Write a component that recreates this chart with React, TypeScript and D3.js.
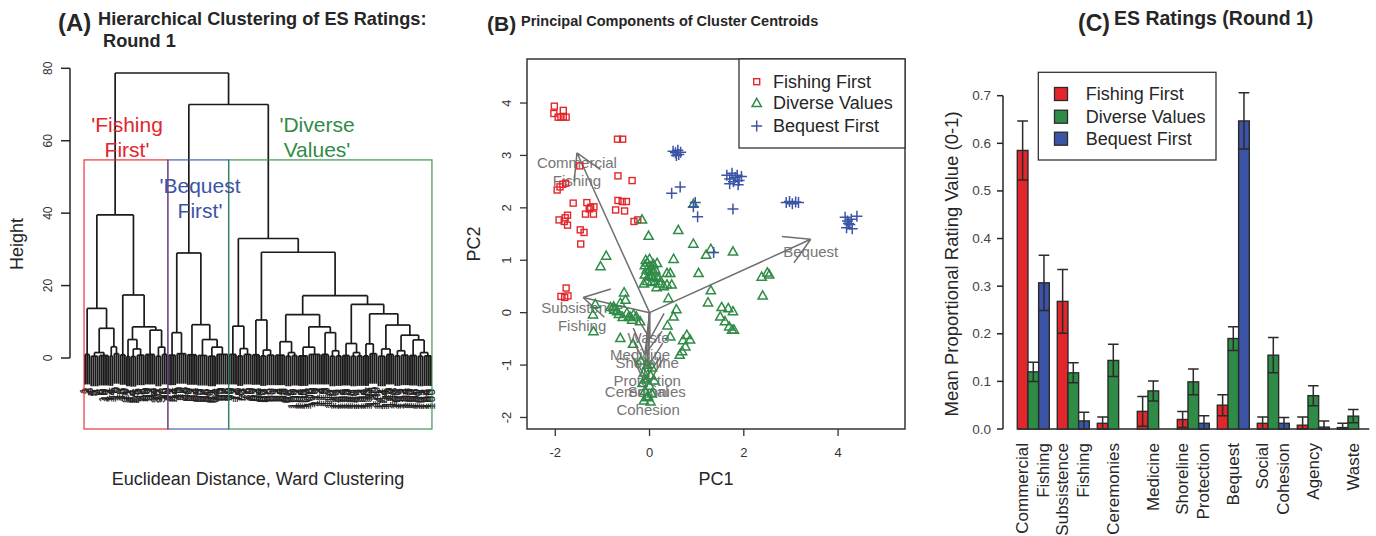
import React from 'react';
import * as d3 from 'd3';

const FONT = '"Liberation Sans", Arial, Helvetica, sans-serif';
const RED = '#e3262b';
const GREEN = '#2f8c46';
const BLUE = '#3c54a5';
const INK = '#262626';
const GREY = '#6f6f6f';

// ---- (A) Ward dendrogram
// a node is [height, ...children]; a plain number n means n leaves joined at that node's height
const fishingFirstTree = [39.5,
  [13.7, [1.0, 3], [8.2, [1.5, [0.5, 4], [0.7, 5]], [3.1, [0.6, 2], [1.2, 3]]]],
  [17.4, [0.9, 3], [8.6, [5.1, [0.5, 2], [2.5, [0.4, 3], [0.8, 4]]], [7.7, [1.0, 5], [3.0, [0.5, 3], [1.0, 3]]]]]];
const bequestFirstTree = [29.0,
  [7.0, [0.8, 4], [1.2, 5]],
  [9.2, [0.9, 5], [5.1, [0.7, 5], [3.0, [0.5, 4], [1.0, 6]]]]];
const diverseValuesTree = [33.0,
  [8.8, [1.0, 4], [2.6, [0.6, 3], [1.0, 4]]],
  [29.2,
    [10.5, [0.9, 4], [2.2, [0.6, 3], [0.8, 4]]],
    [17.2,
      [12.0,
        [4.5, [0.8, 5], [1.5, [0.5, 3], [0.7, 3]]],
        [8.6, [3.0, [0.6, 5], [1.0, 6]], [7.0, [1.0, 4], [2.0, [0.5, 3], [0.6, 3]]]]],
      [14.8,
        [4.0, [0.7, 4], [1.5, [0.5, 3], [0.6, 3]]],
        [12.2,
          [3.9, [0.6, 3], [1.2, 4]],
          [9.1, [2.5, [0.5, 4], [1.0, 4]], [6.3, [2.0, [0.6, 3], [0.8, 4]], [5.0, [0.7, 4], [1.5, [0.5, 3], [0.6, 4]]]]]]]]]];
const dendroTree = [78.7, fishingFirstTree, [70.0, bequestFirstTree, diverseValuesTree]];
const heightTicks = [0, 20, 40, 60, 80];
const cutHeight = 54.7;
const clusterTrees = [fishingFirstTree, bequestFirstTree, diverseValuesTree];
const clusterColors = [RED, BLUE, GREEN];
const clusterLabels = [["'Fishing", "First'"], ["'Bequest", "First'"], ["'Diverse", "Values'"]];
const clusterLabelPos = [[127, 131.7], [200, 192.7], [317, 131.7]];

// ---- (B) PCA of cluster centroids (PC1, PC2)
const fishingFirstPC = [
  [-2.02, 3.94], [-1.83, 3.86], [-2.03, 3.80], [-1.94, 3.73], [-1.88, 3.73], [-1.83, 3.73], [-1.77, 3.73],
  [-0.68, 3.31], [-0.57, 3.31], [-1.48, 2.80], [-0.67, 2.61], [-0.37, 2.52],
  [-1.96, 2.34], [-1.90, 2.40], [-1.84, 2.45], [-1.78, 2.47],
  [-1.62, 2.09], [-1.33, 2.10], [-1.25, 2.01], [-1.18, 2.02], [-1.28, 1.98], [-1.36, 1.88], [-1.19, 1.88],
  [-0.67, 2.14], [-0.58, 2.12], [-0.49, 2.12], [-0.72, 1.96], [-0.53, 1.94],
  [-1.74, 1.86], [-1.79, 1.81], [-1.92, 1.77], [-1.74, 1.67], [-1.81, 1.74],
  [-1.47, 1.58], [-1.39, 1.53], [-1.46, 1.31], [-0.33, 1.74], [-0.25, 1.77],
  [-1.77, 0.47], [-1.88, 0.31], [-1.80, 0.29], [-1.73, 0.32],
];
const diverseValuesPC = [
  [-0.16, 1.77], [-0.02, 1.46], [0.61, 1.57], [0.93, 2.07], [0.93, 1.31], [1.30, 1.21], [1.20, 1.10], [1.77, 1.16],
  [-0.92, 1.08], [-1.04, 0.88], [0.51, 1.02],
  [-0.08, 1.00], [-0.05, 0.95], [0.00, 1.02], [-0.10, 0.90], [0.03, 0.88], [0.08, 0.92], [-0.06, 0.82],
  [0.00, 0.80], [0.06, 0.78], [0.12, 0.82], [-0.10, 0.72], [-0.02, 0.70], [0.05, 0.68], [0.14, 0.70],
  [0.20, 0.66], [-0.05, 0.60], [0.04, 0.58], [0.12, 0.60], [0.22, 0.55], [0.15, 0.48], [0.30, 0.50], [-0.12, 0.55],
  [0.16, 0.94], [0.37, 0.75], [0.44, 0.75], [1.04, 0.75], [0.37, 0.53], [0.47, 0.53], [0.40, 0.27],
  [2.38, 0.68], [2.50, 0.76], [2.54, 0.72], [2.40, 0.32], [1.30, 0.42], [1.24, 0.19],
  [1.53, 0.10], [1.67, 0.08], [1.77, 0.02], [1.50, -0.08], [1.60, -0.17], [1.69, -0.27], [1.75, -0.33], [1.79, -0.33],
  [0.57, 0.06], [0.51, -0.08], [0.38, -0.25], [0.44, -0.46],
  [0.79, -0.43], [0.71, -0.53], [0.86, -0.52], [0.76, -0.65], [0.69, -0.74], [0.64, -0.81],
  [-0.54, 0.38], [-0.51, 0.24], [-1.15, 0.16],
  [-0.83, 0.10], [-0.75, 0.05], [-0.65, -0.03], [-0.57, -0.09], [-0.48, -0.01], [-0.41, -0.09], [-0.34, -0.04],
  [-1.20, -0.04], [-1.19, -0.36], [-0.62, -0.49], [-0.35, -0.60], [-0.28, -0.08], [-0.20, -0.17],
  [-0.62, 0.18], [-0.76, 0.11], [-0.69, 0.02], [-0.44, -0.08], [-0.37, -0.14],
  [-0.18, -0.92], [-0.05, -1.00], [0.05, -1.05], [-0.12, -1.15], [0.02, -1.20], [-0.08, -1.28], [0.10, -1.30],
  [-0.15, -1.35], [0.00, -1.40], [-0.10, -1.50], [0.05, -1.55], [-0.05, -1.62], [-0.12, -1.68], [0.02, -1.70], [-0.03, -1.60],
];
const bequestFirstPC = [
  [0.50, 3.08], [0.55, 3.05], [0.60, 3.10], [0.62, 3.02], [0.66, 3.06], [0.57, 3.00],
  [0.47, 2.28], [0.65, 2.40], [0.93, 2.02], [0.97, 2.10], [1.02, 1.83], [1.36, 1.15],
  [1.64, 2.62], [1.70, 2.55], [1.75, 2.66], [1.78, 2.50], [1.82, 2.58], [1.86, 2.62], [1.90, 2.52], [1.95, 2.60],
  [1.70, 2.46], [1.88, 2.44], [1.77, 1.98],
  [2.90, 2.10], [2.97, 2.12], [3.03, 2.08], [3.10, 2.11], [3.16, 2.10],
  [4.15, 1.82], [4.20, 1.75], [4.25, 1.68], [4.18, 1.62], [4.30, 1.60], [4.40, 1.84], [4.28, 1.78], [4.22, 1.70],
];
const loadingNames = ['Commercial\nFishing', 'Subsistence\nFishing', 'Bequest', 'Waste', 'Medicine',
  'Shoreline\nProtection', 'Ceremonies', 'Social\nCohesion'];
const loadingTips = [[-1.54, 3.05], [-1.41, 0.29], [3.42, 1.40], [0.01, -0.50], [-0.10, -0.80],
  [-0.05, -1.05], [-0.12, -1.30], [-0.02, -1.35]];
const loadingLabelPos = [[-1.54, 2.70], [-1.43, -0.06], [3.42, 1.18], [-0.02, -0.46], [-0.20, -0.78],
  [-0.05, -1.11], [-0.09, -1.49], [-0.03, -1.66]];
const pc1Ticks = [-2, 0, 2, 4];
const pc2Ticks = [-2, -1, 0, 1, 2, 3, 4];

// ---- (C) mean proportional rating by cluster
const esCategories = ['Commercial Fishing', 'Subsistence Fishing', 'Ceremonies', 'Medicine',
  'Shoreline Protection', 'Bequest', 'Social Cohesion', 'Agency', 'Waste'];
const groupNames = ['Fishing First', 'Diverse Values', 'Bequest First'];
const groupColors = [RED, GREEN, BLUE];
const fishingMean = [0.585, 0.268, 0.012, 0.037, 0.020, 0.050, 0.012, 0.008, 0.003];
const fishingSE = [0.062, 0.067, 0.013, 0.031, 0.017, 0.022, 0.013, 0.017, 0.009];
const diverseMean = [0.120, 0.118, 0.144, 0.080, 0.099, 0.190, 0.155, 0.070, 0.027];
const diverseSE = [0.020, 0.021, 0.034, 0.021, 0.027, 0.025, 0.037, 0.021, 0.014];
const bequestMean = [0.307, 0.017, 0, 0, 0.012, 0.647, 0.012, 0.004, 0];
const bequestSE = [0.058, 0.018, 0, 0, 0.016, 0.059, 0.012, 0.013, 0];
const ratingTicks = [0, 0.1, 0.2, 0.3, 0.4, 0.5, 0.6, 0.7];

const HANG = 8.3;

function Dendrogram() {
  const yA = d3.scaleLinear().domain([0, 80]).range([358, 68.3]);
  const root = d3.hierarchy<any>(dendroTree, (d: any) =>
    Array.isArray(d)
      ? d.slice(1).flatMap((c: any) => (typeof c === 'number' ? d3.range(c).map(() => ({})) : [c]))
      : null);
  d3.cluster<any>().size([348, 1]).separation(() => 1)(root);
  const xA = (n: any) => 84 + n.x;
  const hOf = (n: any) => (Array.isArray(n.data) ? n.data[0] : n.parent.data[0] - HANG);

  // [x1, y1, x2, y2, isLeafStem]
  const segs: number[][] = [];
  root.each((n: any) => {
    if (!n.children) return;
    const y = yA(hOf(n));
    const xs = n.children.map(xA);
    segs.push([d3.min(xs), y, d3.max(xs), y, 0]);
    n.children.forEach((c: any) => segs.push([xA(c), y, xA(c), yA(hOf(c)), c.children ? 0 : 1]));
  });
  const leaves = root.leaves();
  const boxes = clusterTrees.map(t => {
    const node = root.descendants().find((n: any) => n.data === t)!;
    const lx = node.leaves().map(xA);
    return [d3.min(lx)! - 1, d3.max(lx)! + 1];
  });

  return (
    <g>
      <text x={58} y={31} fontSize={24} fontWeight="bold" fill={INK}>(A)</text>
      <text x={98} y={25} fontSize={18.2} fontWeight="bold" fill={INK}>Hierarchical Clustering of ES Ratings:</text>
      <text x={103} y={47} fontSize={18.2} fontWeight="bold" fill={INK}>Round 1</text>

      <line x1={70} x2={70} y1={yA(0)} y2={yA(80)} stroke={INK} strokeWidth={1.5} />
      {heightTicks.map(t => (
        <g key={t}>
          <line x1={61} x2={70} y1={yA(t)} y2={yA(t)} stroke={INK} strokeWidth={1.5} />
          <text transform={`translate(48,${yA(t)}) rotate(-90)`} textAnchor="middle" dominantBaseline="central"
            fontSize={12} fill="#333">{t}</text>
        </g>
      ))}
      <text transform={`translate(17,244) rotate(-90)`} textAnchor="middle" dominantBaseline="central"
        fontSize={18} fill={INK}>Height</text>
      <text x={258} y={485} textAnchor="middle" fontSize={18} fill={INK}>Euclidean Distance, Ward Clustering</text>

      {leaves.map((l: any, i: number) => (
        <text key={i} transform={`translate(${xA(l)},${yA(hOf(l)) + 3}) rotate(-90)`} textAnchor="end"
          dominantBaseline="central" fontSize={12.5} fill="#222">{i + 1}</text>
      ))}
      {segs.map((s, i) => (
        <line key={i} x1={s[0]} y1={s[1]} x2={s[2]} y2={s[3]} stroke="#1a1a1a" strokeWidth={s[4] ? 1.9 : 1.7} />
      ))}

      {boxes.map((b, i) => (
        <rect key={i} x={b[0]} y={yA(cutHeight)} width={b[1] - b[0]} height={429 - yA(cutHeight)}
          fill="none" stroke={clusterColors[i]} strokeWidth={1.3} opacity={0.85} />
      ))}
      {clusterLabels.map((lines, i) => (
        <text key={i} x={clusterLabelPos[i][0]} y={clusterLabelPos[i][1]} textAnchor="middle" fontSize={21}
          fill={clusterColors[i]}>
          {lines.map((ln, j) => <tspan key={j} x={clusterLabelPos[i][0]} dy={j === 0 ? 0 : 25}>{ln}</tspan>)}
        </text>
      ))}
    </g>
  );
}

function Biplot() {
  const xB = d3.scaleLinear().domain([-2.6, 5.42]).range([527, 905]);
  const yB = d3.scaleLinear().domain([-2.22, 4.84]).range([429, 59]);
  const head = 29;
  const arrowPath = (tip: number[]) => {
    const x0 = xB(0), y0 = yB(0), x1 = xB(tip[0]), y1 = yB(tip[1]);
    const a = Math.atan2(y0 - y1, x0 - x1);
    const p = d3.path();
    p.moveTo(x0, y0); p.lineTo(x1, y1);
    [-Math.PI / 6, Math.PI / 6].forEach(d => {
      p.moveTo(x1 + head * Math.cos(a + d), y1 + head * Math.sin(a + d));
      p.lineTo(x1, y1);
    });
    return p.toString();
  };
  const square = (x: number, y: number, k: number) =>
    <rect key={k} x={x - 3} y={y - 3} width={6} height={6} fill="none" stroke={RED} strokeWidth={1.4} />;
  const triangle = (x: number, y: number, k: number) =>
    <path key={k} d={`M${x},${y - 5}L${x + 4.6},${y + 3.2}L${x - 4.6},${y + 3.2}Z`} fill="none" stroke={GREEN} strokeWidth={1.5} />;
  const plus = (x: number, y: number, k: number) =>
    <path key={k} d={`M${x - 5.5},${y}H${x + 5.5}M${x},${y - 5.5}V${y + 5.5}`} stroke={BLUE} strokeWidth={1.5} />;
  const cx = (xB(-2.6) + xB(5.42)) / 2;

  return (
    <g>
      <text x={487} y={31} fontSize={21} fontWeight="bold" fill={INK}>(B)</text>
      <text x={521} y={26} fontSize={14.5} fontWeight="bold" fill={INK}>Principal Components of Cluster Centroids</text>

      {loadingNames.map((n, i) => (
        <path key={n} d={arrowPath(loadingTips[i])} fill="none" stroke={GREY} strokeWidth={1.5} />
      ))}
      {loadingNames.map((n, i) => {
        const lines = n.split('\n');
        const lx = xB(loadingLabelPos[i][0]), ly = yB(loadingLabelPos[i][1]);
        return (
          <text key={n} textAnchor="middle" dominantBaseline="central" fontSize={15} fill={GREY} opacity={0.95}>
            {lines.map((ln, j) => (
              <tspan key={j} x={lx} y={ly + (j - (lines.length - 1) / 2) * 18.3}>{ln}</tspan>
            ))}
          </text>
        );
      })}

      {fishingFirstPC.map((p, i) => square(xB(p[0]), yB(p[1]), i))}
      {diverseValuesPC.map((p, i) => triangle(xB(p[0]), yB(p[1]), i))}
      {bequestFirstPC.map((p, i) => plus(xB(p[0]), yB(p[1]), i))}

      <rect x={527} y={59} width={378} height={370} fill="none" stroke="#333" strokeWidth={1.5} />
      {pc1Ticks.map(t => (
        <g key={t}>
          <line x1={xB(t)} x2={xB(t)} y1={429} y2={436} stroke="#333" strokeWidth={1.3} />
          <text x={xB(t)} y={452} textAnchor="middle" dominantBaseline="central" fontSize={13} fill="#333">{t}</text>
        </g>
      ))}
      {pc2Ticks.map(t => (
        <g key={t}>
          <line x1={520} x2={527} y1={yB(t)} y2={yB(t)} stroke="#333" strokeWidth={1.3} />
          <text transform={`translate(506,${yB(t)}) rotate(-90)`} textAnchor="middle" dominantBaseline="central"
            fontSize={13} fill="#333">{t}</text>
        </g>
      ))}
      <text x={cx} y={485} textAnchor="middle" fontSize={18} fill={INK}>PC1</text>
      <text transform={`translate(474,244) rotate(-90)`} textAnchor="middle" dominantBaseline="central"
        fontSize={18} fill={INK}>PC2</text>

      <rect x={739} y={59} width={166} height={89} fill="#fff" stroke="#333" strokeWidth={1.3} />
      {groupNames.map((g, i) => {
        const y = [81.7, 103.3, 126][i];
        return (
          <g key={g}>
            {[square, triangle, plus][i](756.7, y, 0)}
            <text x={773} y={y} dominantBaseline="central" fontSize={18} fill={INK}>{g}</text>
          </g>
        );
      })}
    </g>
  );
}

function RatingBars() {
  const xGroup = d3.scaleBand().domain(esCategories).range([1013.3, 1373.3]).paddingInner(0.2).paddingOuter(0.1);
  const xBar = d3.scaleBand().domain(groupNames).range([0, xGroup.bandwidth()]);
  const yC = d3.scaleLinear().domain([0, 0.7]).range([429, 95.7]);
  const means = [fishingMean, diverseMean, bequestMean];
  const ses = [fishingSE, diverseSE, bequestSE];
  const bw = xBar.bandwidth();

  return (
    <g>
      <text x={1078} y={31} fontSize={23} fontWeight="bold" fill={INK}>(C)</text>
      <text x={1114} y={25} fontSize={19.5} fontWeight="bold" fill={INK}>ES Ratings (Round 1)</text>

      <line x1={1003} x2={1003} y1={yC(0)} y2={yC(0.7)} stroke={INK} strokeWidth={1.5} />
      {ratingTicks.map(t => (
        <g key={t}>
          <line x1={997} x2={1003} y1={yC(t)} y2={yC(t)} stroke={INK} strokeWidth={1.5} />
          <text x={991} y={yC(t)} textAnchor="end" dominantBaseline="central" fontSize={13.5} fill="#444">
            {d3.format('.1f')(t)}
          </text>
        </g>
      ))}
      <text transform={`translate(951,264) rotate(-90)`} textAnchor="middle" dominantBaseline="central"
        fontSize={18.5} fill={INK}>Mean Proportional Rating Value (0-1)</text>

      <line x1={xGroup.range()[0] + 4} x2={xGroup.range()[1] - 4} y1={yC(0)} y2={yC(0)} stroke={INK} strokeWidth={1.5} />
      {esCategories.map((c, ci) => (
        <g key={c}>
          {groupNames.map((g, gi) => {
            const m = means[gi][ci], se = ses[gi][ci];
            const x = xGroup(c)! + xBar(g)!;
            return (
              <g key={g}>
                {m > 0 && (
                  <rect x={x} y={yC(m)} width={bw} height={yC(0) - yC(m)} fill={groupColors[gi]}
                    stroke="#2b2b2b" strokeWidth={1.4} />
                )}
                {se > 0 && (
                  <path d={`M${x + bw / 2},${yC(Math.max(0, m - se))}V${yC(m + se)}` +
                    `M${x},${yC(m + se)}H${x + bw}M${x},${yC(Math.max(0, m - se))}H${x + bw}`}
                    stroke="#2b2b2b" strokeWidth={1.5} fill="none" />
                )}
              </g>
            );
          })}
          {c.split(' ').map((ln, j, arr) => {
            const lx = xGroup(c)! + xGroup.bandwidth() / 2 + (j - (arr.length - 1) / 2) * 21;
            return (
              <text key={j} transform={`translate(${lx},443) rotate(-90)`} textAnchor="end"
                dominantBaseline="central" fontSize={17} fill={INK}>{ln}</text>
            );
          })}
        </g>
      ))}

      <rect x={1038.3} y={72.3} width={177.7} height={87.7} fill="#fff" stroke="#333" strokeWidth={1.3} />
      {groupNames.map((g, i) => {
        const y = [94, 116.7, 138.7][i];
        return (
          <g key={g}>
            <rect x={1054.5} y={y - 6.5} width={13} height={13} fill={groupColors[i]} stroke="#2b2b2b" strokeWidth={1.3} />
            <text x={1085.7} y={y} dominantBaseline="central" fontSize={18} fill={INK}>{g}</text>
          </g>
        );
      })}
    </g>
  );
}

export default function App() {
  return (
    <svg width={1376} height={536} fontFamily={FONT}
      style={{ position: 'absolute', left: 0, top: 0, background: '#fff' }}>
      <rect width={1376} height={536} fill="#fff" />
      <Dendrogram />
      <Biplot />
      <RatingBars />
    </svg>
  );
}
